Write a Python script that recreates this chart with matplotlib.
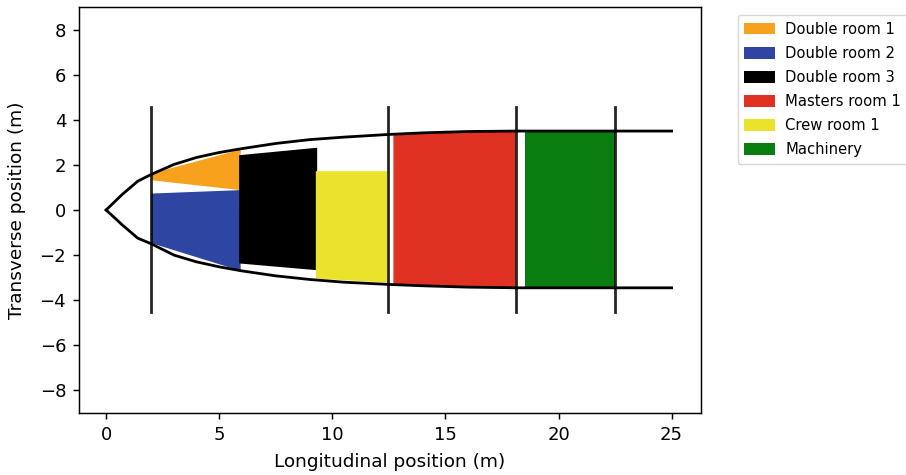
import matplotlib
matplotlib.use("Agg")
import matplotlib.pyplot as plt

# hull outline
hull_x = [0, 0.7, 1.4, 2.0, 3.0, 4.0, 5.0, 6.0, 7.5, 9.0, 10.5, 12.5, 14.0, 16.0, 18.2, 22.5, 25.0]
hull_upper = [0, 0.68, 1.28, 1.58, 2.02, 2.33, 2.55, 2.72, 2.95, 3.12, 3.23, 3.35, 3.42, 3.48, 3.5, 3.5, 3.5]
hull_lower = [0, -0.65, -1.25, -1.5, -2.0, -2.3, -2.52, -2.7, -2.92, -3.08, -3.2, -3.3, -3.36, -3.42, -3.45, -3.45, -3.45]

# bulkheads
bulkhead_x = [2.0, 12.45, 18.1, 22.5]
bulkhead_low = -4.5
bulkhead_high = 4.55

# rooms
room_names = ["Double room 1", "Double room 2", "Double room 3", "Masters room 1", "Crew room 1", "Machinery"]
room_colors = ["#f8a11c", "#2f45a2", "#000000", "#e03222", "#ebe22b", "#0a7d10"]
room_x = [
    [2.0, 5.95, 5.95, 2.0],
    [2.0, 5.9, 5.95, 2.0],
    [5.88, 9.33, 9.33, 5.88],
    [12.7, 18.1, 18.1, 12.7],
    [9.27, 12.42, 12.42, 9.27],
    [18.5, 22.5, 22.5, 18.5],
]
room_y = [
    [1.62, 2.68, 0.88, 1.32],
    [0.73, 0.88, -2.7, -1.47],
    [2.43, 2.76, -2.67, -2.37],
    [3.35, 3.5, -3.42, -3.35],
    [1.72, 1.72, -3.22, -3.04],
    [3.5, 3.5, -3.46, -3.46],
]

W, H = 906, 475
fig = plt.figure(figsize=(W / 100, H / 100), dpi=100)
ax = fig.add_axes([79 / W, 1 - 413 / H, (701 - 79) / W, (413 - 7) / H])

for xs, ys, name, color in zip(room_x, room_y, room_names, room_colors):
    ax.fill(xs, ys, color=color, label=name, linewidth=0)

ax.plot(hull_x, hull_upper, color="black", linewidth=2)
ax.plot(hull_x, hull_lower, color="black", linewidth=2)
for x in bulkhead_x:
    ax.plot([x, x], [bulkhead_low, bulkhead_high], color="black", linewidth=2, alpha=0.85)

ax.set_xlim(-1.2, 26.3)
ax.set_ylim(-9, 9)
ax.set_xticks([0, 5, 10, 15, 20, 25])
ax.set_yticks([-8, -6, -4, -2, 0, 2, 4, 6, 8])
ax.tick_params(labelsize=13, width=1.06, length=4.6, pad=4.6)
for spine in ax.spines.values():
    spine.set_linewidth(1.06)
ax.set_xlabel("Longitudinal position (m)", fontsize=13.3, labelpad=6.5)
ax.set_ylabel("Transverse position (m)", fontsize=13.3, labelpad=9.5)

ax.legend(loc="upper left", bbox_to_anchor=(737.5 / W, 1 - 15 / H), bbox_transform=fig.transFigure,
          fontsize=10.6, borderaxespad=0, borderpad=0.45, labelspacing=0.62, handlelength=2.1,
          handleheight=0.85, handletextpad=0.7, framealpha=0.8)

fig.savefig("out.png", dpi=100)
